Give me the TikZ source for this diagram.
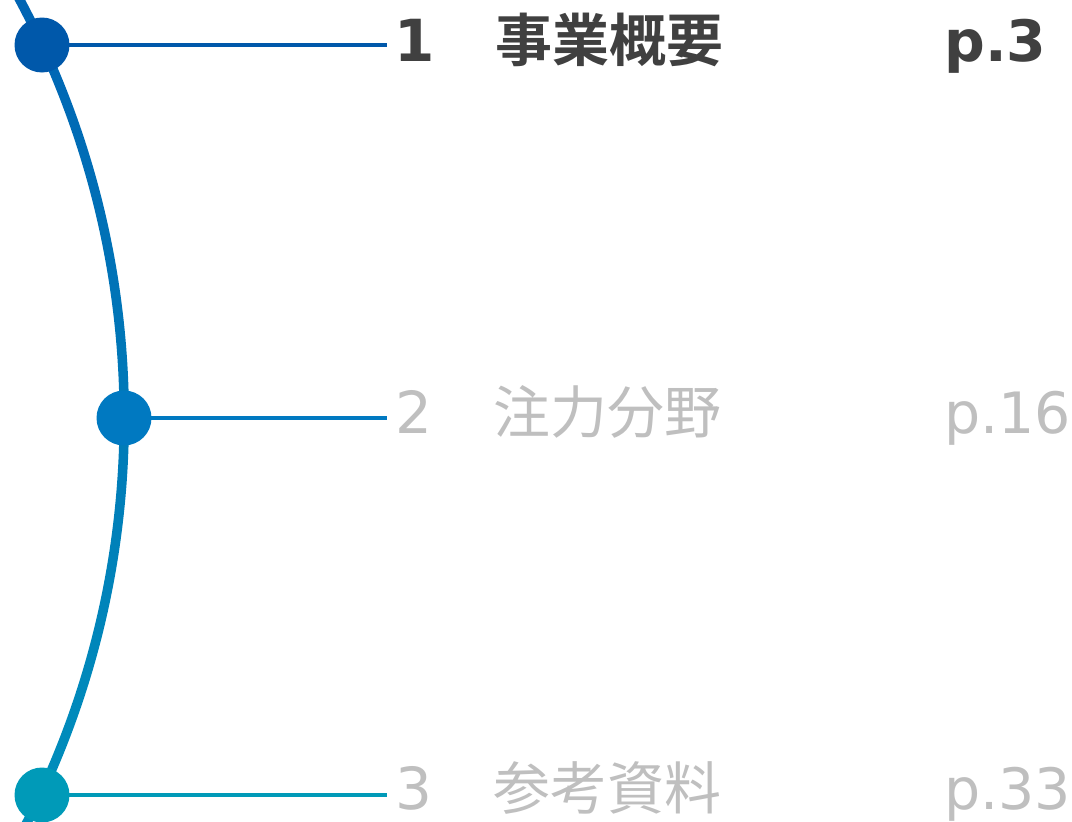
\documentclass[tikz,border=0pt]{standalone}
\usepackage{fontspec}
\usetikzlibrary{calc}
\setmainfont{DejaVu Sans}
\newfontfamily\jpfont{Noto Sans CJK JP}[BoldFont={Noto Sans CJK JP Bold}]
\newfontfamily\latfont{DejaVu Sans}
\definecolor{cTop}{HTML}{0058AA}
\definecolor{cMid}{HTML}{0079C1}
\definecolor{cBot}{HTML}{009AB8}
\definecolor{aTop}{HTML}{0064B4}
\definecolor{aBot}{HTML}{0090BC}
\definecolor{txtDark}{HTML}{404040}
\definecolor{txtGray}{HTML}{BFBFBF}
\tikzset{
  dot/.style={circle, inner sep=0pt, minimum size=55pt},
  tick/.style={line width=3.5pt},
  numtxt/.style={anchor=base, inner sep=0pt, font=\latfont\fontsize{58}{60}\selectfont},
  jptxt/.style={anchor=base, inner sep=0pt, font=\jpfont\fontsize{57}{60}\selectfont},
  pagetxt/.style={anchor=base west, inner sep=0pt, font=\latfont\fontsize{57}{60}\selectfont},
  active/.style={text=txtDark},
  inactive/.style={text=txtGray},
}
\begin{document}
\begin{tikzpicture}[x=1pt,y=1pt]
\useasboundingbox (0,0) rectangle (1072,-822);
% arc with gradient
\begin{scope}
  \clip (-765,-418) ++(29:894) arc[start angle=29, end angle=-28, radius=894]
        -- ($(-765,-418)+(-28:884.5)$) arc[start angle=-28, end angle=29, radius=884.5] -- cycle;
  \shade[top color=aTop, middle color=cMid, bottom color=aBot] (-10,10) rectangle (200,-835);
\end{scope}
% dots
\node[dot, fill=cTop] (c1) at (42,-45) {};
\node[dot, fill=cMid] (c2) at (124,-418) {};
\node[dot, fill=cBot] (c3) at (42,-795) {};
\coordinate (e1) at (387,-45);
\coordinate (e2) at (387,-418);
\coordinate (e3) at (387,-795);
\draw[tick, draw=cTop] (c1.center) -- (e1);
\draw[tick, draw=cMid] (c2.center) -- (e2);
\draw[tick, draw=cBot] (c3.center) -- (e3);
% texts
\node[numtxt, active] (n1) at (415,-61) {\bfseries 1};
\node[jptxt, active] (t1) at (609,-61) {\bfseries 事業概要};
\node[pagetxt, active] (p1) at (944,-61) {\bfseries p.3};
\node[numtxt, inactive] (n2) at (414,-433) {2};
\node[jptxt, inactive] (t2) at (607,-433) {注力分野};
\node[pagetxt, inactive] (p2) at (944,-433) {p.16};
\node[numtxt, inactive] (n3) at (414,-809) {3};
\node[jptxt, inactive] (t3) at (607,-809) {参考資料};
\node[pagetxt, inactive] (p3) at (944,-809) {p.33};
\end{tikzpicture}
\end{document}
